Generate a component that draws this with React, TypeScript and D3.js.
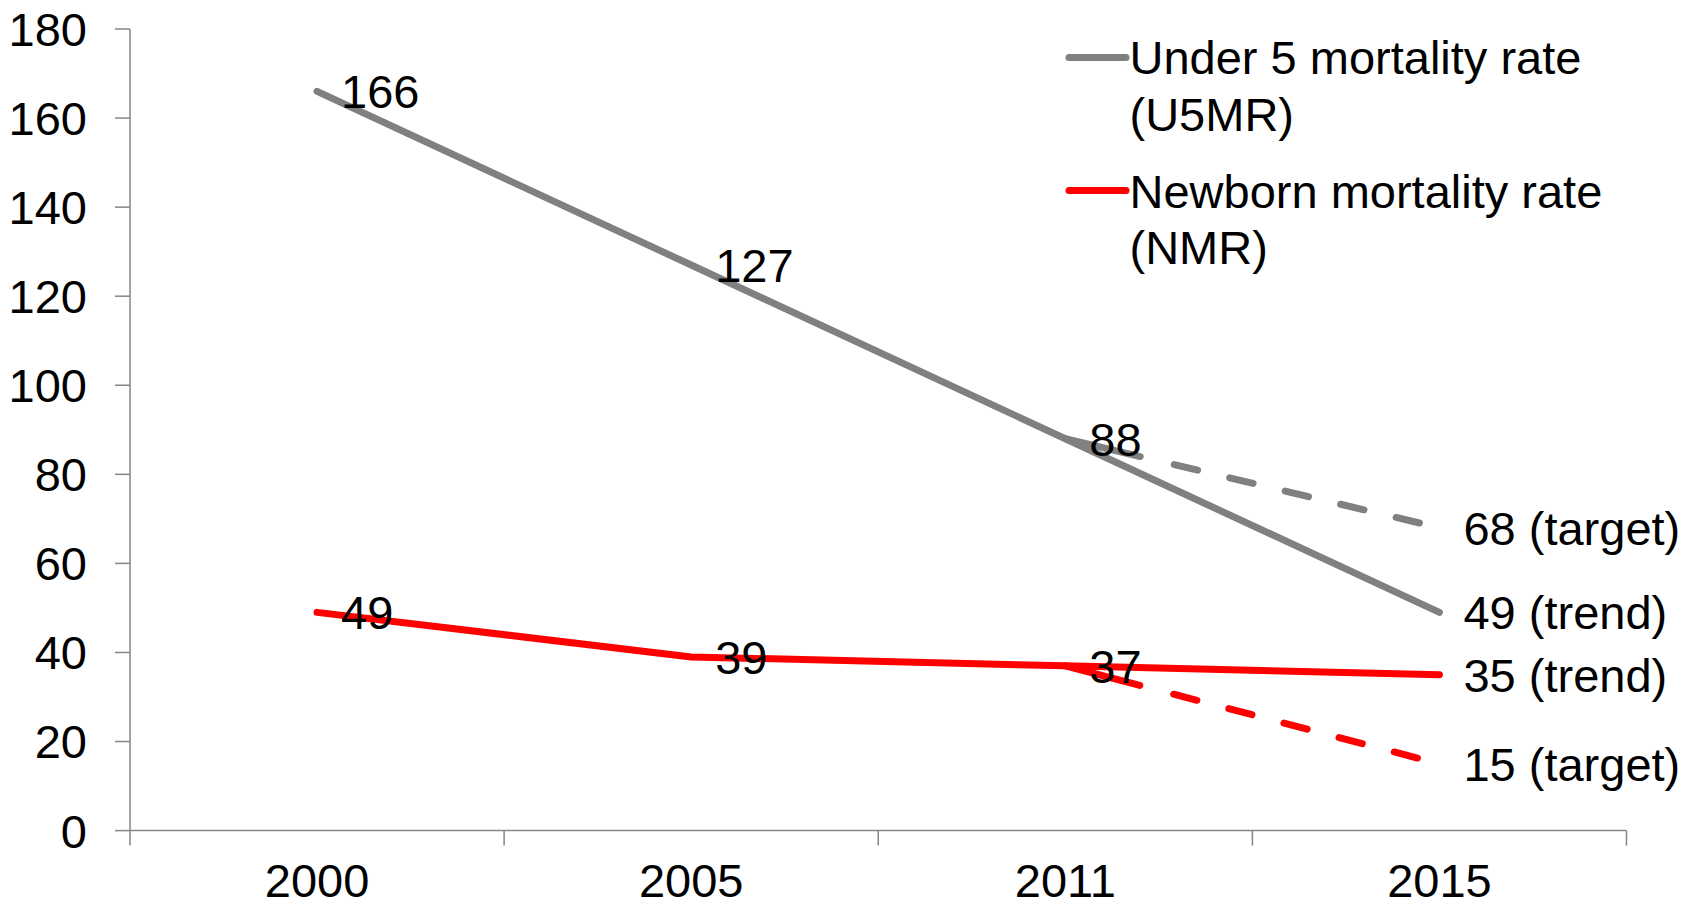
import React from 'react';
import * as d3 from 'd3';

const categories = ['2000', '2005', '2011', '2015'];
const u5mr = [166, 127, 88, 49];
const nmr = [49, 39, 37, 35];
const u5mrTarget: (number | null)[] = [null, null, 88, 68];
const nmrTarget: (number | null)[] = [null, null, 37, 15];
const u5mrLabels = ['166', '127', '88', '49 (trend)'];
const nmrLabels = ['49', '39', '37', '35 (trend)'];
const u5mrTargetLabels: (string | null)[] = [null, null, null, '68 (target)'];
const nmrTargetLabels: (string | null)[] = [null, null, null, '15 (target)'];
const yTicks = [0, 20, 40, 60, 80, 100, 120, 140, 160, 180];
const legendItems = [
  { lines: ['Under 5 mortality rate', '(U5MR)'], color: '#808080' },
  { lines: ['Newborn mortality rate', '(NMR)'], color: '#FF0000' },
];

const W = 1698;
const H = 910;
const FONT = '"Liberation Sans", Arial, sans-serif';
const FS = 47;
const AXIS = '#868686';
const LW = 7;
const DASH = '77 35 24 33 24 33 24 33 24 33 24 33 24 33 24 33';

export default function App() {
  const x = d3.scaleBand<string>().domain(categories).range([130, 1626.5]);
  const y = d3.scaleLinear().domain([0, 180]).range([830.6, 29]);
  const cx = (c: string) => (x(c) as number) + x.bandwidth() / 2;

  const line = d3
    .line<[string, number | null]>()
    .defined((d) => d[1] !== null)
    .x((d) => cx(d[0]))
    .y((d) => y(d[1] as number));

  const zip = (vals: (number | null)[]) => categories.map((c, i) => [c, vals[i]] as [string, number | null]);

  const labelsFor = (vals: (number | null)[], labels: (string | null)[]) =>
    categories.map((c, i) =>
      labels[i] !== null && vals[i] !== null ? (
        <text
          key={c + labels[i]}
          x={cx(c) + 24}
          y={y(vals[i] as number)}
          dy="0.36em"
          fontSize={FS}
          fontFamily={FONT}
          fill="#000"
        >
          {labels[i]}
        </text>
      ) : null
    );

  const xEdges = [130, ...categories.map((c) => (x(c) as number) + x.bandwidth())];

  return (
    <svg width={W} height={H} style={{ position: 'absolute', left: 0, top: 0, background: '#fff' }}>
      {/* y axis */}
      <line x1={130} x2={130} y1={y(180)} y2={y(0)} stroke={AXIS} strokeWidth={1.5} />
      {yTicks.map((t) => (
        <g key={t}>
          <line x1={115} x2={130} y1={y(t)} y2={y(t)} stroke={AXIS} strokeWidth={1.5} />
          <text x={87} y={y(t)} dy="0.36em" textAnchor="end" fontSize={FS} fontFamily={FONT} fill="#000">
            {t}
          </text>
        </g>
      ))}
      {/* x axis */}
      <line x1={130} x2={1626.5} y1={y(0)} y2={y(0)} stroke={AXIS} strokeWidth={1.5} />
      {xEdges.map((e, i) => (
        <line key={i} x1={e} x2={e} y1={y(0)} y2={y(0) + 15} stroke={AXIS} strokeWidth={1.5} />
      ))}
      {categories.map((c) => (
        <text key={c} x={cx(c)} y={880} dy="0.36em" textAnchor="middle" fontSize={FS} fontFamily={FONT} fill="#000">
          {c}
        </text>
      ))}

      {/* dashed targets */}
      <path d={line(zip(u5mrTarget)) || ''} fill="none" stroke="#808080" strokeWidth={LW} strokeDasharray={DASH} strokeLinecap="round" />
      <path d={line(zip(nmrTarget)) || ''} fill="none" stroke="#FF0000" strokeWidth={LW} strokeDasharray={DASH} strokeLinecap="round" />
      {/* solid lines */}
      <path d={line(zip(u5mr)) || ''} fill="none" stroke="#808080" strokeWidth={LW} strokeLinecap="round" strokeLinejoin="round" />
      <path d={line(zip(nmr)) || ''} fill="none" stroke="#FF0000" strokeWidth={LW} strokeLinecap="round" strokeLinejoin="round" />

      {/* data labels */}
      {labelsFor(u5mr, u5mrLabels)}
      {labelsFor(nmr, nmrLabels)}
      {labelsFor(u5mrTarget, u5mrTargetLabels)}
      {labelsFor(nmrTarget, nmrTargetLabels)}

      {/* legend */}
      {legendItems.map((item, i) => {
        const ly = 57.4 + i * 133.2;
        return (
          <g key={i}>
            <line x1={1069} x2={1126} y1={ly} y2={ly} stroke={item.color} strokeWidth={LW} strokeLinecap="round" />
            {item.lines.map((t, j) => (
              <text key={j} x={1129.5} y={ly + j * 56.3} dy="0.36em" fontSize={FS} fontFamily={FONT} fill="#000">
                {t}
              </text>
            ))}
          </g>
        );
      })}
    </svg>
  );
}
